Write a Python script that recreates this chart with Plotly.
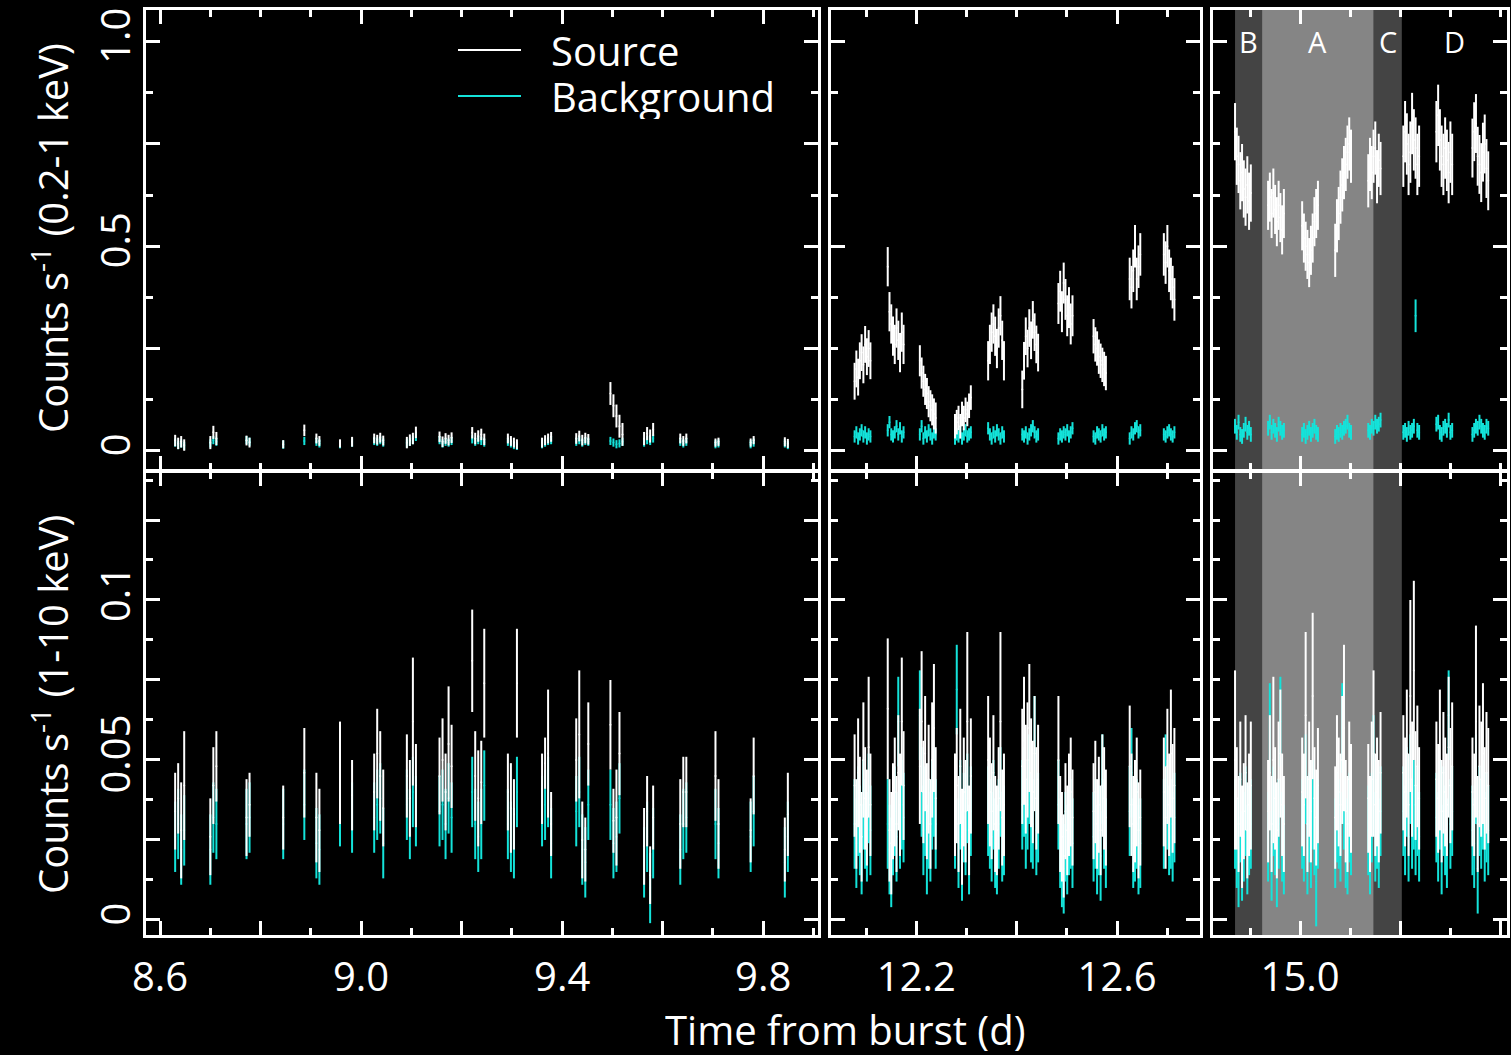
import plotly.graph_objects as go

# ---------------- DATA ----------------
# Binned light curves: each cluster = one spacecraft visit; bins start at the cluster start time.
BIN_LEFT = 0.006      # bin width (d) for the 8.6-9.9 d visits
BIN_OTHER = 0.0035    # bin width (d) for the later visits

T0_LEFT = [8.630, 8.700, 8.772, 8.845, 8.887, 8.911, 8.958, 8.982, 9.026, 9.091, 9.156,
           9.221, 9.292, 9.360, 9.428, 9.496, 9.563, 9.635, 9.705, 9.775, 9.843]
T0_MID = [12.077, 12.143, 12.207, 12.277, 12.343, 12.411, 12.483, 12.553, 12.625, 12.693]
T0_RIGHT = [14.870, 14.936, 15.004, 15.070, 15.136, 15.206, 15.272, 15.344]

# 0.2-1 keV, source
SOFT_SRC_LEFT = [
    [0.025, 0.018, 0.022, 0.014], [0.020, 0.045, 0.030], [0.025, 0.020], [0.016], [0.050],
    [0.030, 0.024], [0.018], [0.022], [0.030, 0.027, 0.032, 0.025], [0.020, 0.026, 0.030, 0.045],
    [0.034, 0.022, 0.030, 0.026, 0.032], [0.044, 0.030, 0.036, 0.040, 0.028],
    [0.030, 0.024, 0.020, 0.016], [0.020, 0.026, 0.030, 0.034], [0.030, 0.036, 0.026, 0.031, 0.028],
    [0.140, 0.110, 0.085, 0.060, 0.040], [0.030, 0.042, 0.036, 0.052], [0.030, 0.024, 0.030],
    [0.020, 0.022], [0.020, 0.026], [0.022, 0.018]]
SOFT_SRC_LEFT_ERR = [0.014, 0.016, 0.012, 0.010, 0.014, 0.012, 0.010, 0.012, 0.012, 0.014, 0.013,
                     0.014, 0.012, 0.012, 0.013, 0.028, 0.016, 0.012, 0.010, 0.010, 0.011]
SOFT_SRC_MID = [
    [0.17, 0.20, 0.18, 0.22, 0.24, 0.21, 0.26, 0.23, 0.25, 0.22],
    [0.45, 0.34, 0.31, 0.28, 0.26, 0.30, 0.27, 0.24, 0.29, 0.26],
    [0.22, 0.19, 0.17, 0.15, 0.14, 0.12, 0.11, 0.10, 0.09, 0.08],
    [0.06, 0.07, 0.08, 0.06, 0.09, 0.08, 0.10, 0.09, 0.11, 0.13],
    [0.22, 0.26, 0.29, 0.31, 0.28, 0.25, 0.30, 0.33, 0.27, 0.22],
    [0.15, 0.22, 0.28, 0.25, 0.30, 0.27, 0.32, 0.29, 0.26, 0.24],
    [0.36, 0.39, 0.34, 0.41, 0.37, 0.33, 0.35, 0.31, 0.33],
    [0.28, 0.26, 0.25, 0.23, 0.22, 0.21, 0.20, 0.19],
    [0.42, 0.40, 0.44, 0.50, 0.42, 0.45, 0.48],
    [0.48, 0.46, 0.50, 0.44, 0.42, 0.40, 0.37]]
SOFT_SRC_MID_ERR = [0.045, 0.048, 0.038, 0.030, 0.048, 0.046, 0.050, 0.042, 0.052, 0.052]
SOFT_SRC_RIGHT = [
    [0.78, 0.72, 0.70, 0.66, 0.68, 0.64, 0.62, 0.65, 0.61, 0.63],
    [0.60, 0.62, 0.58, 0.63, 0.59, 0.56, 0.60, 0.57, 0.54, 0.58],
    [0.55, 0.52, 0.50, 0.48, 0.46, 0.49, 0.52, 0.56, 0.58, 0.60],
    [0.49, 0.55, 0.58, 0.62, 0.65, 0.68, 0.70, 0.73, 0.75, 0.72],
    [0.66, 0.70, 0.68, 0.72, 0.74, 0.67, 0.71, 0.69],
    [0.72, 0.78, 0.75, 0.70, 0.73, 0.80, 0.76, 0.74, 0.70, 0.72],
    [0.78, 0.82, 0.76, 0.72, 0.70, 0.74, 0.71, 0.68, 0.73, 0.70],
    [0.74, 0.78, 0.80, 0.72, 0.70, 0.68, 0.73, 0.75, 0.69, 0.66]]
SOFT_SRC_RIGHT_ERR = [0.070, 0.060, 0.060, 0.065, 0.065, 0.075, 0.075, 0.072]

# 0.2-1 keV, background
SOFT_BKG_LEFT = [
    [0.020, 0.014, 0.018, 0.012], [0.018, 0.026, 0.022], [0.026, 0.022], [0.015], [0.024],
    [0.022, 0.018], [0.016], [0.020], [0.024, 0.022, 0.026, 0.020], [0.018, 0.022, 0.026, 0.034],
    [0.026, 0.018, 0.022, 0.020, 0.024], [0.028, 0.022, 0.026, 0.024, 0.020],
    [0.022, 0.018, 0.014, 0.012], [0.016, 0.020, 0.024, 0.026], [0.022, 0.026, 0.020, 0.024, 0.022],
    [0.024, 0.020, 0.016, 0.018, 0.022], [0.020, 0.026, 0.024, 0.030], [0.022, 0.018, 0.022],
    [0.016, 0.018], [0.016, 0.020], [0.018, 0.014]]
SOFT_BKG_LEFT_ERR = [0.010] * 21
SOFT_BKG_MID = [
    [0.035, 0.045, 0.030, 0.040, 0.050, 0.035, 0.045, 0.030, 0.040, 0.035],
    [0.050, 0.070, 0.040, 0.035, 0.045, 0.060, 0.040, 0.055, 0.035, 0.045],
    [0.040, 0.060, 0.030, 0.045, 0.035, 0.050, 0.040, 0.030, 0.045, 0.040],
    [0.030, 0.040, 0.035, 0.045, 0.030, 0.040, 0.050, 0.035, 0.040, 0.045],
    [0.055, 0.040, 0.030, 0.045, 0.035, 0.050, 0.040, 0.030, 0.045, 0.035],
    [0.040, 0.035, 0.045, 0.030, 0.040, 0.050, 0.060, 0.045, 0.035, 0.040],
    [0.030, 0.040, 0.035, 0.045, 0.040, 0.050, 0.035, 0.045, 0.055],
    [0.035, 0.030, 0.045, 0.040, 0.035, 0.050, 0.040, 0.045],
    [0.030, 0.045, 0.040, 0.055, 0.060, 0.045, 0.050],
    [0.040, 0.035, 0.045, 0.050, 0.040, 0.035, 0.045]]
SOFT_BKG_MID_ERR = [0.015] * 10
SOFT_BKG_RIGHT = [
    [0.060, 0.045, 0.070, 0.040, 0.035, 0.050, 0.065, 0.045, 0.055, 0.040],
    [0.055, 0.070, 0.045, 0.060, 0.050, 0.040, 0.065, 0.055, 0.045, 0.050],
    [0.040, 0.050, 0.035, 0.045, 0.055, 0.040, 0.050, 0.060, 0.045, 0.040],
    [0.035, 0.045, 0.040, 0.050, 0.045, 0.055, 0.060, 0.070, 0.050, 0.045],
    [0.050, 0.045, 0.060, 0.055, 0.070, 0.060, 0.065, 0.075],
    [0.045, 0.050, 0.040, 0.055, 0.045, 0.050, 0.060, 0.330, 0.050, 0.045],
    [0.065, 0.070, 0.045, 0.040, 0.055, 0.060, 0.050, 0.075, 0.045, 0.050],
    [0.040, 0.050, 0.060, 0.055, 0.070, 0.060, 0.050, 0.045, 0.060, 0.055]]
SOFT_BKG_RIGHT_ERR = [0.018, 0.018, 0.018, 0.018, 0.018,
                      [0.018, 0.018, 0.018, 0.018, 0.018, 0.018, 0.018, 0.040, 0.018, 0.018],
                      0.018, 0.018]

# 1-10 keV, source
HARD_SRC_LEFT = [
    [0.034, 0.038, 0.028, 0.042], [0.026, 0.042, 0.048], [0.032, 0.036], [0.032], [0.046],
    [0.032, 0.028], [0.046], [0.039], [0.040, 0.052, 0.045, 0.035], [0.045, 0.038, 0.062, 0.042],
    [0.045, 0.050, 0.040, 0.055, 0.048], [0.081, 0.045, 0.038, 0.043, 0.074],
    [0.040, 0.035, 0.033, 0.074], [0.041, 0.049, 0.052, 0.030], [0.050, 0.058, 0.025, 0.022, 0.055],
    [0.061, 0.031, 0.032, 0.052], [0.023, 0.034, 0.014, 0.032], [0.030, 0.040, 0.040],
    [0.045, 0.030], [0.028, 0.045], [0.022, 0.033]]
HARD_SRC_LEFT_ERR = [
    [0.012, 0.011, 0.015, 0.017], [0.012, 0.012, 0.011], [0.012, 0.010], [0.010], [0.014],
    [0.014, 0.013], [0.016], [0.011], [0.012, 0.014, 0.014, 0.012], [0.013, 0.012, 0.020, 0.013],
    [0.012, 0.013, 0.012, 0.018, 0.013], [0.016, 0.014, 0.015, 0.013, 0.017],
    [0.012, 0.014, 0.011, 0.017], [0.011, 0.008, 0.020, 0.010], [0.013, 0.020, 0.012, 0.010, 0.013],
    [0.014, 0.010, 0.015, 0.013], [0.012, 0.011, 0.009, 0.010], [0.014, 0.011, 0.011],
    [0.014, 0.014], [0.010, 0.012], [0.010, 0.013]]
HARD_SRC_MID = [
    [0.042, 0.030, 0.046, 0.036, 0.026, 0.050, 0.038, 0.032, 0.054, 0.036],
    [0.066, 0.028, 0.024, 0.034, 0.040, 0.030, 0.046, 0.036, 0.062, 0.042],
    [0.048, 0.062, 0.040, 0.052, 0.034, 0.044, 0.030, 0.050, 0.060, 0.038],
    [0.036, 0.042, 0.030, 0.048, 0.026, 0.040, 0.034, 0.062, 0.028, 0.045],
    [0.050, 0.040, 0.034, 0.046, 0.030, 0.028, 0.038, 0.062, 0.032, 0.036],
    [0.048, 0.056, 0.044, 0.050, 0.060, 0.046, 0.040, 0.052, 0.038, 0.044],
    [0.050, 0.030, 0.026, 0.020, 0.034, 0.028, 0.036, 0.040, 0.032],
    [0.034, 0.040, 0.030, 0.036, 0.028, 0.042, 0.038, 0.032],
    [0.048, 0.036, 0.030, 0.034, 0.040, 0.028, 0.032],
    [0.040, 0.032, 0.048, 0.036, 0.052, 0.038, 0.042]]
HARD_SRC_MID_ERR = [
    [0.016, 0.014, 0.017, 0.015, 0.014, 0.018, 0.016, 0.015, 0.022, 0.016],
    [0.022, 0.016, 0.016, 0.015, 0.017, 0.015, 0.018, 0.016, 0.020, 0.017],
    [0.018, 0.022, 0.016, 0.018, 0.015, 0.017, 0.014, 0.018, 0.020, 0.016],
    [0.016, 0.018, 0.015, 0.018, 0.015, 0.017, 0.016, 0.028, 0.014, 0.018],
    [0.020, 0.017, 0.015, 0.018, 0.015, 0.014, 0.016, 0.028, 0.015, 0.016],
    [0.018, 0.020, 0.017, 0.018, 0.020, 0.017, 0.016, 0.018, 0.016, 0.017],
    [0.020, 0.015, 0.014, 0.013, 0.015, 0.014, 0.016, 0.017, 0.015],
    [0.015, 0.016, 0.014, 0.015, 0.014, 0.016, 0.016, 0.015],
    [0.019, 0.016, 0.015, 0.016, 0.017, 0.015, 0.015],
    [0.017, 0.016, 0.018, 0.016, 0.020, 0.017, 0.018]]
HARD_SRC_RIGHT = [
    [0.050, 0.038, 0.030, 0.044, 0.026, 0.034, 0.046, 0.028, 0.036, 0.042],
    [0.034, 0.046, 0.030, 0.050, 0.038, 0.028, 0.044, 0.052, 0.036, 0.030],
    [0.040, 0.036, 0.064, 0.030, 0.044, 0.034, 0.070, 0.038, 0.032, 0.042],
    [0.032, 0.046, 0.040, 0.036, 0.050, 0.060, 0.034, 0.030, 0.044, 0.038],
    [0.038, 0.030, 0.044, 0.052, 0.036, 0.040, 0.034, 0.046],
    [0.046, 0.040, 0.052, 0.036, 0.070, 0.044, 0.078, 0.042, 0.048, 0.038],
    [0.044, 0.038, 0.050, 0.034, 0.046, 0.040, 0.036, 0.054, 0.042, 0.048],
    [0.040, 0.036, 0.062, 0.030, 0.048, 0.044, 0.052, 0.038, 0.046, 0.042]]
HARD_SRC_RIGHT_ERR = [
    [0.028, 0.016, 0.015, 0.018, 0.016, 0.015, 0.018, 0.015, 0.016, 0.020],
    [0.016, 0.018, 0.015, 0.026, 0.016, 0.015, 0.018, 0.020, 0.016, 0.015],
    [0.017, 0.016, 0.026, 0.015, 0.018, 0.016, 0.026, 0.016, 0.015, 0.018],
    [0.016, 0.018, 0.017, 0.016, 0.020, 0.026, 0.016, 0.015, 0.018, 0.017],
    [0.017, 0.015, 0.018, 0.026, 0.016, 0.017, 0.016, 0.019],
    [0.018, 0.017, 0.020, 0.016, 0.030, 0.018, 0.028, 0.017, 0.019, 0.016],
    [0.018, 0.017, 0.022, 0.016, 0.019, 0.017, 0.016, 0.022, 0.018, 0.020],
    [0.017, 0.016, 0.030, 0.015, 0.019, 0.018, 0.022, 0.016, 0.019, 0.018]]

# 1-10 keV, background
HARD_BKG_LEFT = [
    [0.026, 0.030, 0.022, 0.028], [0.022, 0.032, 0.030], [0.030, 0.032], [0.030], [0.036],
    [0.024, 0.022], [0.034], [0.032], [0.032, 0.036, 0.038, 0.024], [0.036, 0.030, 0.040, 0.034],
    [0.034, 0.036, 0.030, 0.038, 0.032], [0.040, 0.030, 0.026, 0.030, 0.042],
    [0.030, 0.026, 0.024, 0.040], [0.034, 0.036, 0.040, 0.024], [0.034, 0.040, 0.022, 0.018, 0.036],
    [0.036, 0.024, 0.026, 0.038], [0.018, 0.026, 0.010, 0.024], [0.022, 0.030, 0.032],
    [0.030, 0.024], [0.026, 0.034], [0.018, 0.026]]
HARD_BKG_LEFT_ERR = [0.011] * 21
HARD_BKG_MID = [
    [0.030, 0.024, 0.034, 0.028, 0.022, 0.036, 0.030, 0.026, 0.038, 0.028],
    [0.030, 0.022, 0.018, 0.028, 0.034, 0.026, 0.062, 0.030, 0.036, 0.032],
    [0.064, 0.040, 0.028, 0.034, 0.022, 0.030, 0.026, 0.036, 0.040, 0.030],
    [0.030, 0.072, 0.024, 0.036, 0.020, 0.032, 0.028, 0.038, 0.022, 0.034],
    [0.034, 0.030, 0.026, 0.036, 0.024, 0.022, 0.030, 0.040, 0.026, 0.028],
    [0.036, 0.040, 0.030, 0.036, 0.044, 0.032, 0.030, 0.056, 0.028, 0.032],
    [0.036, 0.024, 0.018, 0.016, 0.026, 0.022, 0.028, 0.030, 0.024],
    [0.026, 0.030, 0.022, 0.028, 0.020, 0.044, 0.030, 0.024],
    [0.034, 0.046, 0.024, 0.026, 0.030, 0.022, 0.024],
    [0.030, 0.044, 0.036, 0.028, 0.030, 0.026, 0.032]]
HARD_BKG_MID_ERR = [0.014] * 10
HARD_BKG_RIGHT = [
    [0.030, 0.024, 0.018, 0.032, 0.020, 0.026, 0.034, 0.022, 0.028, 0.030],
    [0.026, 0.060, 0.020, 0.034, 0.028, 0.018, 0.030, 0.062, 0.026, 0.022],
    [0.030, 0.026, 0.044, 0.022, 0.032, 0.024, 0.036, 0.028, 0.012, 0.030],
    [0.024, 0.032, 0.030, 0.026, 0.060, 0.036, 0.024, 0.022, 0.032, 0.028],
    [0.028, 0.022, 0.032, 0.050, 0.026, 0.030, 0.024, 0.034],
    [0.034, 0.028, 0.040, 0.026, 0.044, 0.030, 0.036, 0.028, 0.034, 0.026],
    [0.032, 0.026, 0.036, 0.022, 0.034, 0.028, 0.024, 0.064, 0.030, 0.034],
    [0.028, 0.024, 0.044, 0.016, 0.034, 0.030, 0.036, 0.026, 0.032, 0.028]]
HARD_BKG_RIGHT_ERR = [0.014] * 8

# Shaded phases in the third visit block (start times, d)
PHASE_LABELS = ["B", "A", "C", "D"]
PHASE_EDGES = [14.870, 14.924, 15.147, 15.203]
PHASE_FILLS = ["#444444", "#858585", "#444444", None]

# Legend
LEGEND_NAMES = ["Source", "Background"]

# Axis tick values / labels
X_TICKS = [[8.6, 8.8, 9.0, 9.2, 9.4, 9.6, 9.8], [12.2, 12.4, 12.6], [15.0, 15.2, 15.4]]
X_TEXT = [["8.6", "", "9.0", "", "9.4", "", "9.8"], ["12.2", "", "12.6"], ["15.0", "", ""]]
X_RANGES = [[8.572, 9.909], [12.030, 12.765], [14.826, 15.413]]
Y_SOFT_TICKS = [0, 0.25, 0.5, 0.75, 1.0]
Y_SOFT_TEXT = ["0", "", "0.5", "", "1.0"]
Y_HARD_TICKS = [0, 0.025, 0.05, 0.075, 0.1, 0.125]
Y_HARD_TEXT = ["0", "", "0.05", "", "0.1", ""]
Y_SOFT_RANGE = [-0.047, 1.0775]
Y_HARD_RANGE = [-0.0047, 0.14]

# ---------------- FIGURE ----------------
W, H = 1511, 1055
FONT = "Open Sans"
SRC_COLOR = "white"
BKG_COLOR = "#14e3da"
COLORS = [SRC_COLOR, BKG_COLOR]


def expand(t0s, dt, vals, errs):
    xs, ys, es = [], [], []
    for t0, v, e in zip(t0s, vals, errs):
        elist = e if isinstance(e, list) else [e] * len(v)
        for i, (vv, ee) in enumerate(zip(v, elist)):
            xs.append(t0 + i * dt)
            ys.append(vv)
            es.append(ee)
    return xs, ys, es


fig = go.Figure()

blocks = [
    (T0_LEFT, BIN_LEFT,
     (SOFT_SRC_LEFT, SOFT_SRC_LEFT_ERR), (SOFT_BKG_LEFT, SOFT_BKG_LEFT_ERR),
     (HARD_SRC_LEFT, HARD_SRC_LEFT_ERR), (HARD_BKG_LEFT, HARD_BKG_LEFT_ERR)),
    (T0_MID, BIN_OTHER,
     (SOFT_SRC_MID, SOFT_SRC_MID_ERR), (SOFT_BKG_MID, SOFT_BKG_MID_ERR),
     (HARD_SRC_MID, HARD_SRC_MID_ERR), (HARD_BKG_MID, HARD_BKG_MID_ERR)),
    (T0_RIGHT, BIN_OTHER,
     (SOFT_SRC_RIGHT, SOFT_SRC_RIGHT_ERR), (SOFT_BKG_RIGHT, SOFT_BKG_RIGHT_ERR),
     (HARD_SRC_RIGHT, HARD_SRC_RIGHT_ERR), (HARD_BKG_RIGHT, HARD_BKG_RIGHT_ERR)),
]


def add_curve(t0s, dt, data, color, xa, ya, name):
    xs, ys, es = expand(t0s, dt, data[0], data[1])
    fig.add_trace(go.Scatter(
        x=xs, y=ys, mode="markers", xaxis=xa, yaxis=ya, showlegend=False, name=name,
        marker=dict(size=2, color=color),
        error_y=dict(type="data", array=es, visible=True, color=color, thickness=2, width=0),
        hoverinfo="skip"))


for c, (t0s, dt, ssrc, sbkg, hsrc, hbkg) in enumerate(blocks):
    top_x = "x" if c == 0 else f"x{c + 1}"
    top_y = "y" if c == 0 else f"y{c + 1}"
    bot_x, bot_y = f"x{c + 4}", f"y{c + 4}"
    add_curve(t0s, dt, sbkg, BKG_COLOR, top_x, top_y, "Background")
    add_curve(t0s, dt, ssrc, SRC_COLOR, top_x, top_y, "Source")
    add_curve(t0s, dt, hbkg, BKG_COLOR, bot_x, bot_y, "Background")
    add_curve(t0s, dt, hsrc, SRC_COLOR, bot_x, bot_y, "Source")

X_DOMAINS = [[146 / W, 818 / W], [831 / W, 1200 / W], [1213 / W, 1507 / W]]
TOP_DOMAIN = [(H - 470) / H, (H - 10) / H]
BOT_DOMAIN = [(H - 935) / H, (H - 472) / H]

tickfont = dict(family=FONT, size=40, color="white")
common = dict(showline=True, linecolor="white", linewidth=3, mirror="ticks",
              ticks="inside", tickcolor="white", tickwidth=3, ticklen=14,
              showgrid=False, zeroline=False, tickfont=tickfont, automargin=False)

layout_axes = {}
for c in range(3):
    for r in range(2):
        idx = c + 1 + 3 * r
        xname = "xaxis" if idx == 1 else f"xaxis{idx}"
        yname = "yaxis" if idx == 1 else f"yaxis{idx}"
        yref = "y" if idx == 1 else f"y{idx}"
        xref = "x" if idx == 1 else f"x{idx}"
        layout_axes[xname] = dict(
            common, domain=X_DOMAINS[c], range=X_RANGES[c], anchor=yref,
            tickmode="array", tickvals=X_TICKS[c], ticktext=X_TEXT[c],
            showticklabels=(r == 1), ticklabelstandoff=5,
            minor=dict(ticks="inside", dtick=0.1, ticklen=7, tickwidth=3,
                       tickcolor="white", showgrid=False))
        if r == 0:
            yt, ytxt, yr, yd, ymin = Y_SOFT_TICKS, Y_SOFT_TEXT, Y_SOFT_RANGE, TOP_DOMAIN, 0.125
        else:
            yt, ytxt, yr, yd, ymin = Y_HARD_TICKS, Y_HARD_TEXT, Y_HARD_RANGE, BOT_DOMAIN, 0.0125
        layout_axes[yname] = dict(
            common, domain=yd, range=yr, anchor=xref,
            tickmode="array", tickvals=yt, ticktext=ytxt, tickangle=-90,
            showticklabels=(c == 0), ticklabelstandoff=-3,
            minor=dict(ticks="inside", dtick=ymin, ticklen=7, tickwidth=3,
                       tickcolor="white", showgrid=False))

shapes = []
annotations = []
phase_bounds = PHASE_EDGES + [X_RANGES[2][1]]
for i, lab in enumerate(PHASE_LABELS):
    x0, x1 = phase_bounds[i], phase_bounds[i + 1]
    if PHASE_FILLS[i]:
        shapes.append(dict(type="rect", xref="x3", yref="paper", x0=x0, x1=x1,
                           y0=BOT_DOMAIN[0], y1=TOP_DOMAIN[1], fillcolor=PHASE_FILLS[i],
                           line=dict(width=0), layer="below"))
    annotations.append(dict(x=(x0 + x1) / 2, xref="x3", y=(H - 42) / H, yref="paper",
                            text=lab, showarrow=False, xanchor="center", yanchor="middle",
                            font=dict(family=FONT, size=29, color="white")))

# legend (line sample + label)
LEG_X0, LEG_X1, LEG_TX = 458 / W, 521 / W, 549 / W
LEG_Y = [(H - 50) / H, (H - 96) / H]
for name, col, ly in zip(LEGEND_NAMES, COLORS, LEG_Y):
    shapes.append(dict(type="line", xref="paper", yref="paper", x0=LEG_X0, x1=LEG_X1,
                       y0=ly, y1=ly, line=dict(color=col, width=2)))
    annotations.append(dict(text=name, x=LEG_TX, y=ly, xref="paper", yref="paper",
                            showarrow=False, xanchor="left", yanchor="middle", height=45,
                            font=dict(family=FONT, size=40, color="white")))

annotations += [
    dict(text="Counts s<sup>-1</sup> (0.2-1 keV)", x=50 / W, y=(H - 238) / H,
         xref="paper", yref="paper", textangle=-90, showarrow=False,
         xanchor="center", yanchor="middle", font=dict(family=FONT, size=40, color="white")),
    dict(text="Counts s<sup>-1</sup> (1-10 keV)", x=50 / W, y=(H - 705) / H,
         xref="paper", yref="paper", textangle=-90, showarrow=False,
         xanchor="center", yanchor="middle", font=dict(family=FONT, size=40, color="white")),
    dict(text="Time from burst (d)", x=845 / W, y=(H - 1029) / H, height=46,
         xref="paper", yref="paper", showarrow=False,
         xanchor="center", yanchor="middle", font=dict(family=FONT, size=40, color="white")),
]

fig.update_layout(
    width=W, height=H, margin=dict(l=0, r=0, t=0, b=0),
    paper_bgcolor="black", plot_bgcolor="rgba(0,0,0,0)",
    font=dict(family=FONT, color="white"),
    showlegend=False,
    shapes=shapes, annotations=annotations,
    **layout_axes)

fig.write_html("out.html",
               config={"displayModeBar": False},
               post_script="document.body.style.margin='0px';"
                           "document.body.style.background='black';")
